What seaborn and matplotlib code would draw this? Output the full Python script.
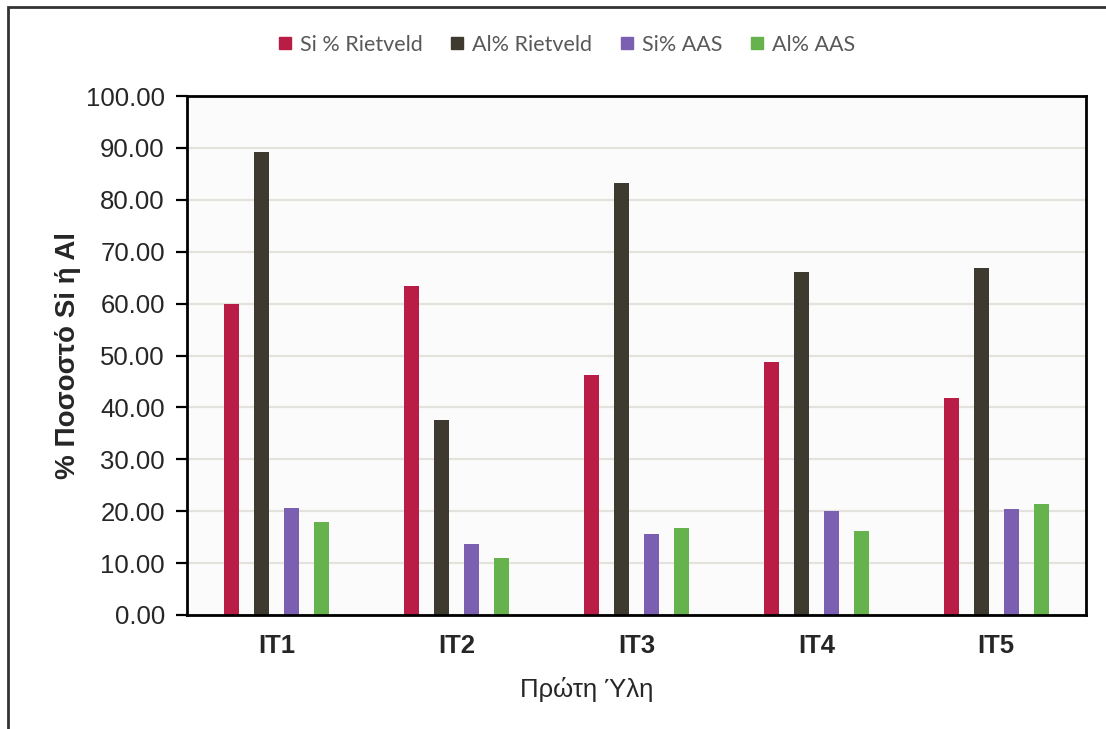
import matplotlib
matplotlib.use("Agg")
import matplotlib.pyplot as plt
import matplotlib.patches as mpatches
from matplotlib.lines import Line2D
import seaborn as sns
import pandas as pd

categories = ["IT1", "IT2", "IT3", "IT4", "IT5"]
series_names = ["Si % Rietveld", "Al% Rietveld", "Si% AAS", "Al% AAS"]
si_rietveld = [60.0, 63.4, 46.2, 48.8, 41.8]
al_rietveld = [89.2, 37.5, 83.3, 66.1, 66.9]
si_aas = [20.6, 13.7, 15.6, 20.1, 20.4]
al_aas = [17.9, 11.0, 16.8, 16.2, 21.3]
colors = ["#b91c44", "#3f3a2f", "#7b5fb0", "#66b24c"]

rows = []
for name, vals in zip(series_names, [si_rietveld, al_rietveld, si_aas, al_aas]):
    for cat, v in zip(categories, vals):
        rows.append({"cat": cat, "series": name, "value": v})
df = pd.DataFrame(rows)

sns.set_style("white")
plt.rcParams["font.family"] = ["Liberation Sans", "DejaVu Sans"]

fig = plt.figure(figsize=(11.06, 7.29), dpi=100)
ax = fig.add_axes([187 / 1106, 1 - 615 / 729, (1086 - 187) / 1106, (615 - 96) / 729])

sns.barplot(data=df, x="cat", y="value", hue="series", order=categories,
            hue_order=series_names, palette=colors, width=0.668, gap=0.5,
            ax=ax, legend=False, saturation=1, edgecolor="none")

ax.set_facecolor("#fbfbfb")
ax.set_ylim(0, 100)
ax.set_xlim(-0.5, 4.5)
ax.set_yticks(range(0, 101, 10))
ax.set_yticklabels([f"{v:.2f}" for v in range(0, 101, 10)], fontsize=18.5)
ax.yaxis.grid(True, color="#e4e2dc", linewidth=1.6)
ax.set_axisbelow(True)
for side in ["left", "right", "top", "bottom"]:
    ax.spines[side].set_visible(True)
    ax.spines[side].set_color("black")
    ax.spines[side].set_linewidth(2)
ax.tick_params(axis="y", direction="out", length=8, width=1.6, color="black", pad=8, left=True)
ax.tick_params(axis="x", length=0, pad=14)
for lbl in ax.get_xticklabels():
    lbl.set_fontweight("bold")
    lbl.set_fontsize(18.5)

ax.set_xlabel("Πρώτη Ύλη", fontsize=18.5)
ax.xaxis.set_label_coords((587 - 187) / (1086 - 187), -(677 - 615) / (615 - 96))
ax.set_ylabel("% Ποσοστό Si ή Al", fontsize=20, fontweight="bold")
ax.yaxis.set_label_coords(-(187 - 81) / (1086 - 187), 0.5)

handles = [Line2D([0], [0], marker="s", linestyle="none", markersize=9,
                  markerfacecolor=c, markeredgecolor=c) for c in colors]
fig.legend(handles, series_names, loc="center", bbox_to_anchor=(566 / 1106, 1 - 45 / 729),
           ncol=4, frameon=False, handlelength=0.7, handletextpad=0.35, columnspacing=1.25,
           prop={"family": ["Lato", "DejaVu Sans"], "size": 15.5}, labelcolor="#595959")

# outer chart frame
fig.patches.append(mpatches.Rectangle((8 / 1106, -0.05), 1.2, 1 - 7 / 729 + 0.05,
                                      transform=fig.transFigure, fill=False,
                                      edgecolor="#333333", linewidth=2))

fig.savefig("out.png", dpi=100)
